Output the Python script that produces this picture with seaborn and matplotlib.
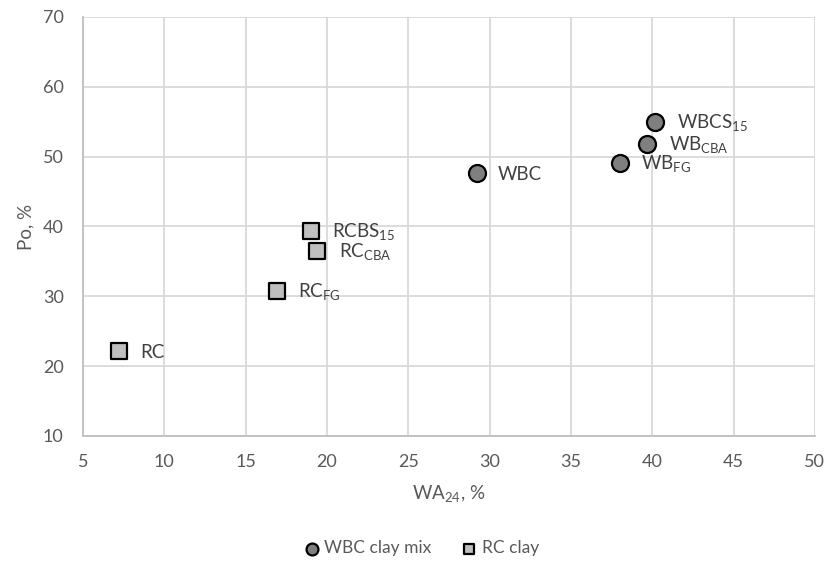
import matplotlib
matplotlib.use("Agg")
import matplotlib.pyplot as plt
import seaborn as sns
import pandas as pd

# Water absorption (WA24, %) vs open porosity (Po, %)
wbc_labels = ["WBC", "WB$_{\\mathregular{FG}}$", "WB$_{\\mathregular{CBA}}$", "WBCS$_{\\mathregular{15}}$"]
wbc_wa = [29.2, 38.0, 39.7, 40.2]
wbc_po = [47.7, 49.1, 51.8, 55.0]

rc_labels = ["RC", "RC$_{\\mathregular{FG}}$", "RC$_{\\mathregular{CBA}}$", "RCBS$_{\\mathregular{15}}$"]
rc_wa = [7.2, 16.9, 19.4, 19.0]
rc_po = [22.2, 30.7, 36.5, 39.4]

x_ticks = [5, 10, 15, 20, 25, 30, 35, 40, 45, 50]
y_ticks = [10, 20, 30, 40, 50, 60, 70]

sns.set_theme(style="whitegrid")
plt.rcParams["font.family"] = ["Lato", "DejaVu Sans"]
plt.rcParams["mathtext.fontset"] = "custom"
plt.rcParams["mathtext.rm"] = "Lato"

text_col = "#595959"
grid_col = "#d9d9d9"

wbc = pd.DataFrame({"WA": wbc_wa, "Po": wbc_po, "label": wbc_labels})
rc = pd.DataFrame({"WA": rc_wa, "Po": rc_po, "label": rc_labels})

fig = plt.figure(figsize=(8.26, 5.64), dpi=100)
ax = fig.add_axes([0.1005, 0.227, 0.886, 0.743])

sns.scatterplot(data=wbc, x="WA", y="Po", ax=ax, marker="o", s=150,
                color="#7f7f7f", edgecolor="black", linewidth=1.6,
                label="WBC clay mix", zorder=3)
sns.scatterplot(data=rc, x="WA", y="Po", ax=ax, marker="s", s=120,
                color="#bfbfbf", edgecolor="black", linewidth=1.6,
                label="RC clay", zorder=3)

for df in (wbc, rc):
    for _, r in df.iterrows():
        ax.annotate(r["label"], (r["WA"], r["Po"]), xytext=(15.5, -1),
                    textcoords="offset points", va="center", ha="left",
                    fontsize=13.5, color="#404040")

ax.set_xlim(5, 50)
ax.set_ylim(10, 70)
ax.set_xticks(x_ticks)
ax.set_yticks(y_ticks)
ax.grid(True, color=grid_col, linewidth=1.3)
for side in ("top", "right"):
    ax.spines[side].set_visible(False)
for side in ("left", "bottom"):
    ax.spines[side].set_color("#bfbfbf")
    ax.spines[side].set_linewidth(1.3)
ax.tick_params(axis="both", colors=text_col, labelsize=13, length=0, pad=13)
ax.tick_params(axis="y", pad=14)

ax.set_xlabel("WA$_{\\mathregular{24}}$, %", fontsize=13.5, color=text_col, labelpad=10)
ax.set_ylabel("Po, %", fontsize=13.5, color=text_col, labelpad=6)

leg = ax.legend(loc="upper center", bbox_to_anchor=(0.463, -0.212), ncol=2,
                frameon=False, fontsize=12.5, markerscale=0.7,
                handlelength=0.8, handletextpad=0.3, columnspacing=1.8,
                labelcolor=text_col)

fig.savefig("out.png", dpi=100)
